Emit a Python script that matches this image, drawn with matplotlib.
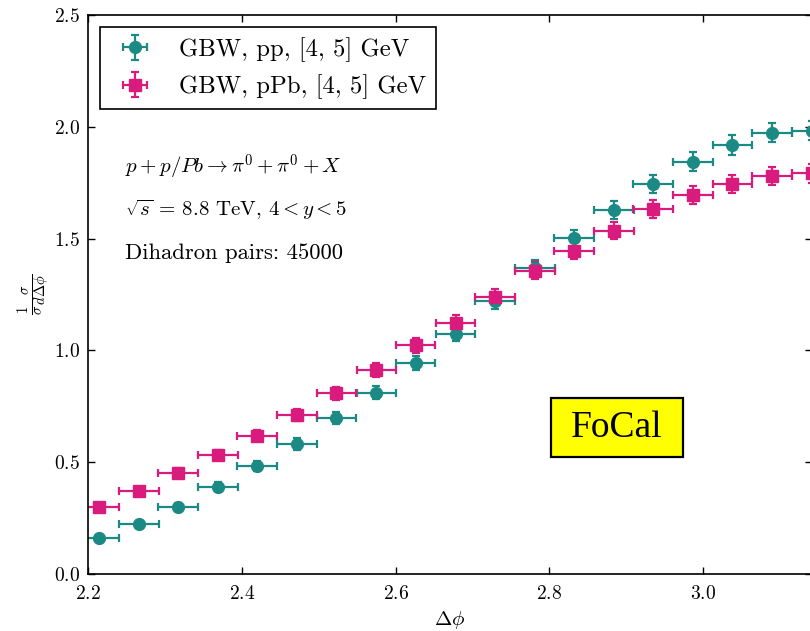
import matplotlib
matplotlib.use("Agg")
import matplotlib.pyplot as plt
import numpy as np
from matplotlib.patches import Rectangle

plt.rcParams["font.family"] = "serif"
plt.rcParams["font.serif"] = ["cmr10"]
plt.rcParams["mathtext.fontset"] = "cm"
plt.rcParams["axes.formatter.use_mathtext"] = True

# bin centres in delta phi and the half bin width
DPHI = [2.214, 2.266, 2.317, 2.369, 2.420, 2.472, 2.523, 2.575, 2.626, 2.678,
        2.729, 2.781, 2.832, 2.884, 2.935, 2.987, 3.038, 3.090, 3.141]
HALF_BIN = 0.0258

# normalised dihadron correlation, GBW model, pp
PP_VALUES = [0.160, 0.224, 0.298, 0.390, 0.482, 0.581, 0.696, 0.811, 0.942, 1.073,
             1.222, 1.367, 1.501, 1.628, 1.744, 1.844, 1.919, 1.974, 1.983]
PP_ERRORS = [0.013, 0.015, 0.018, 0.020, 0.022, 0.025, 0.027, 0.029, 0.031, 0.033,
             0.035, 0.037, 0.038, 0.040, 0.041, 0.042, 0.043, 0.043, 0.044]

# same for pPb
PPB_VALUES = [0.298, 0.371, 0.453, 0.531, 0.619, 0.711, 0.808, 0.912, 1.022, 1.124,
              1.240, 1.357, 1.446, 1.535, 1.631, 1.695, 1.744, 1.780, 1.792]
PPB_ERRORS = [0.018, 0.020, 0.022, 0.023, 0.025, 0.027, 0.029, 0.031, 0.032, 0.034,
              0.036, 0.037, 0.038, 0.039, 0.040, 0.041, 0.041, 0.042, 0.042]

X_TICKS = [2.2, 2.4, 2.6, 2.8, 3.0]
Y_TICKS = [0.0, 0.5, 1.0, 1.5, 2.0, 2.5]

TEAL = "#1b8a84"
PINK = "#d81b7c"

fig = plt.figure(figsize=(8.1, 6.31), dpi=100)
ax = fig.add_axes([88 / 810, 57 / 631, 724 / 810, 559 / 631])

common = dict(linestyle="none", elinewidth=1.6, capsize=3.0, capthick=1.6)
ax.errorbar(DPHI, PP_VALUES, xerr=HALF_BIN, yerr=PP_ERRORS, fmt="o", color=TEAL,
            markersize=8.5, label="GBW, pp, [4, 5] GeV", **common)
ax.errorbar(DPHI, PPB_VALUES, xerr=HALF_BIN, yerr=PPB_ERRORS, fmt="s", color=PINK,
            markersize=8.3, label="GBW, pPb, [4, 5] GeV", **common)

ax.set_xlim(2.2, np.pi)
ax.set_ylim(0.0, 2.5)
ax.set_xticks(X_TICKS)
ax.set_yticks(Y_TICKS)
ax.tick_params(direction="in", top=True, right=True, length=5, width=1, labelsize=14)
ax.tick_params(axis="x", pad=8)
ax.tick_params(axis="y", pad=6)
for spine in ax.spines.values():
    spine.set_linewidth(1.2)

ax.set_xlabel(r"$\Delta\phi$", fontsize=15, labelpad=4)
ax.set_ylabel(r"$\frac{1}{\sigma}\frac{\sigma}{d\Delta\phi}$", fontsize=15)
ax.yaxis.set_label_coords(-0.05, 0.5)

leg = ax.legend(loc="upper left", fontsize=17.8, frameon=True, fancybox=False,
                framealpha=1, edgecolor="black", borderaxespad=0.5,
                handlelength=2.0, labelspacing=0.5)
leg.get_frame().set_linewidth(1.2)

ax.text(0.051, 0.728, r"$p + p/Pb \rightarrow \pi^0 + \pi^0 + X$",
        transform=ax.transAxes, fontsize=15, va="center")
ax.text(0.051, 0.651, r"$\sqrt{s}$ = 8.8 TeV, $4 < y < 5$",
        transform=ax.transAxes, fontsize=15, va="center")
ax.text(0.051, 0.574, "Dihadron pairs: 45000",
        transform=ax.transAxes, fontsize=16.3, va="center")

# yellow FoCal tag
ax.add_patch(Rectangle((0.6395, 0.2093), 0.1823, 0.1055, transform=ax.transAxes,
                       facecolor="yellow", edgecolor="black", linewidth=1.6, zorder=4))
ax.text(0.7307, 0.262, "FoCal", transform=ax.transAxes, fontsize=27,
        family="Liberation Serif", ha="center", va="center", zorder=5)

fig.savefig("out.png", dpi=100)
